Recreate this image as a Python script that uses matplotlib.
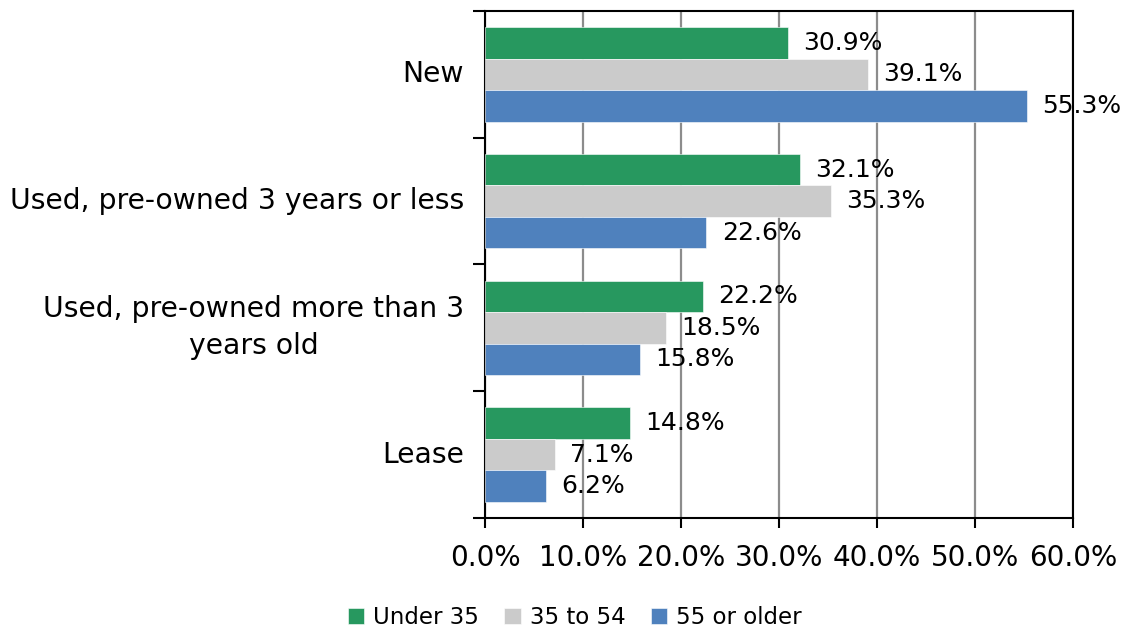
import matplotlib
matplotlib.use('Agg')
import matplotlib.pyplot as plt
import numpy as np

plt.rcParams['font.family'] = ['DejaVu Sans']

# data
categories = ['New', 'Used, pre-owned 3 years or less',
              'Used, pre-owned more than 3\nyears old', 'Lease']
series_names = ['Under 35', '35 to 54', '55 or older']
under_35 = [30.9, 32.1, 22.2, 14.8]
age_35_54 = [39.1, 35.3, 18.5, 7.1]
over_55 = [55.3, 22.6, 15.8, 6.2]
x_ticks = [0, 10, 20, 30, 40, 50, 60]

colors = ['#27985F', '#CBCBCB', '#4F81BD']

fig = plt.figure(figsize=(11.27, 6.31), dpi=100)
ax = fig.add_axes([0.4303, 0.1791, 0.5218, 0.8035])

y = np.arange(len(categories))
h = 0.248
for k, (vals, name, col) in enumerate(zip([under_35, age_35_54, over_55], series_names, colors)):
    pos = y + (k - 1) * h
    bars = ax.barh(pos, vals, height=h, color=col, edgecolor='white', linewidth=0.4,
                   label=name, zorder=3)
    for b, v in zip(bars, vals):
        ax.annotate(f'{v:.1f}%', (v, b.get_y() + b.get_height() / 2),
                    xytext=(11, 0), textcoords='offset points',
                    ha='left', va='center', fontsize=18, zorder=4)

ax.set_xlim(0, 60)
ax.set_ylim(len(categories) - 0.5, -0.5)
ax.set_xticks(x_ticks)
ax.set_xticklabels([f'{t:.1f}%' for t in x_ticks], fontsize=20)
ax.set_yticks(y)
ax.set_yticklabels(categories, fontsize=20.3, multialignment='center',
                   linespacing=1.4, va='center')
ax.set_yticks(np.arange(len(categories) + 1) - 0.5, minor=True)

ax.tick_params(axis='y', which='major', length=0, pad=15)
ax.tick_params(axis='y', which='minor', length=9, width=1.5, direction='out')
ax.tick_params(axis='x', which='major', length=7, width=1.5, pad=12)

ax.grid(axis='x', color='#8C8C8C', linewidth=1.6, zorder=0)
for s in ax.spines.values():
    s.set_color('black')
    s.set_linewidth(1.5)

fig.legend(loc='center', bbox_to_anchor=(0.51, 0.021), ncol=3, frameon=False,
           fontsize=16.5, handlelength=0.7, handleheight=0.7,
           handletextpad=0.4, columnspacing=1.1)

fig.savefig('out.png', dpi=100)
plt.close(fig)
